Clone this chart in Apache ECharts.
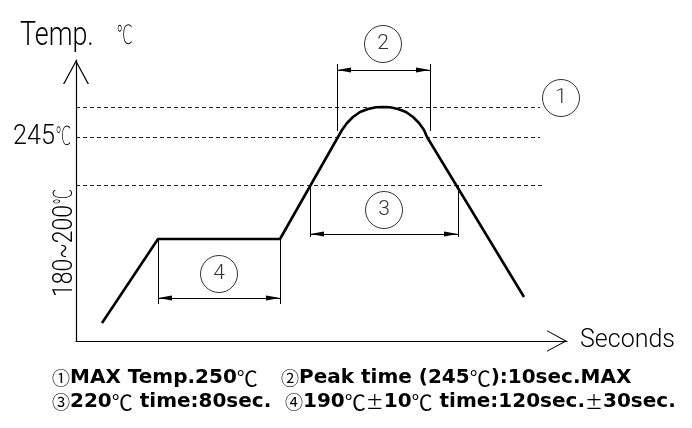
<!DOCTYPE html>
<html>
<head>
<meta charset="utf-8">
<script src="https://cdn.jsdelivr.net/npm/echarts@6/dist/echarts.min.js"></script>
<style>
  html, body { margin: 0; padding: 0; background: #fff; }
  #chart { width: 692px; height: 428px; }
</style>
</head>
<body>
<div id="chart"></div>
<script>
// profile curve (schematic units)
const profileTime = [26, 82, 204, 262, 266, 271, 277, 284, 292, 300, 307, 314, 322, 330, 337, 343, 348, 351, 448]
const profileTemp = [18, 102, 102, 204, 211, 218, 224, 229, 232, 233.7, 234, 233.7, 232, 229, 224, 218, 211, 204, 44]

// dashed reference levels: 250, 245, 220
const guideLevels = [234, 204, 156]
const guideEnds = [464, 464, 468]

// dimension spans ② ③ ④
const spanFrom = [261, 234, 82]
const spanTo = [354, 382, 204]
const spanLevel = [271, 107, 43]
const extTop = [277, 156, 102]
const extBottom = [210, 104, 37]

// circled callouts
const calloutText = ['1', '2', '3', '4']
const calloutTime = [485, 307, 308, 143]
const calloutTemp = [243, 297, 131, 67]

const CAD = 'Roboto'
const ARROW = 'path://M0,24 L13,0 L26,24 L24.6,24 L13,2.6 L1.4,24 Z'
const HEAD = 'path://M5,0 L10,28 L0,28 Z'

let guideLines = guideLevels.map((lv, i) => [
    {coord: [0, lv]},
    {coord: [guideEnds[i], lv]}
])

let extLines = []
spanFrom.forEach((x, i) => {
    extLines.push([{coord: [x, extTop[i]]}, {coord: [x, extBottom[i]]}])
    extLines.push([{coord: [spanTo[i], extTop[i]]}, {coord: [spanTo[i], extBottom[i]]}])
})

let head = {symbol: HEAD, symbolSize: [5, 14], symbolOffset: [0, 7]}
let dimLines = spanFrom.map((x, i) => [
    Object.assign({coord: [x, spanLevel[i]]}, head),
    Object.assign({coord: [spanTo[i], spanLevel[i]]}, head)
])

// thin CAD-like lettering
function cadText(text, x, y, size, opts) {
    let o = opts || {}
    return {
        type: 'text', x: x, y: y, rotation: o.rotation || 0, scaleX: o.scaleX || 1,
        style: {
            text: text, fontFamily: o.family || CAD, fontWeight: o.weight || 300, fontSize: size,
            fill: '#000', align: o.align || 'left', verticalAlign: 'middle'
        }
    }
}

let noteStyle = {
    fontFamily: 'DejaVu Sans', fontWeight: 'bold', fontSize: 20, color: '#000', lineHeight: 24,
    rich: {
        c: {fontFamily: 'Noto Sans CJK JP', fontWeight: 'normal', fontSize: 18, color: '#000', lineHeight: 24},
        d: {fontFamily: 'Noto Sans CJK JP', fontWeight: 'normal', fontSize: 21, color: '#000', lineHeight: 24}
    }
}

let chart = echarts.init(document.getElementById('chart'))
chart.setOption({
    backgroundColor: '#fff',
    animation: false,
    grid: {left: 76, top: 60, width: 491, height: 281},
    xAxis: {
        type: 'value', min: 0, max: 491,
        axisLine: {show: true, symbol: ['none', ARROW], symbolSize: [23, 20], symbolOffset: [0, -10],
            lineStyle: {color: '#000', width: 1.2}},
        axisTick: {show: false}, axisLabel: {show: false}, splitLine: {show: false}
    },
    yAxis: {
        type: 'value', min: 0, max: 281,
        axisLine: {show: true, symbol: ['none', ARROW], symbolSize: [26, 24], symbolOffset: [0, -12],
            lineStyle: {color: '#000', width: 1.2}},
        axisTick: {show: false}, axisLabel: {show: false}, splitLine: {show: false}
    },
    title: [
        {left: 52, top: 366, padding: 0, textStyle: noteStyle,
            text: '{c|①}MAX Temp.250{d|℃}\n{c|③}220{d|℃} time:80sec.'},
        {left: 281, top: 366, padding: 0, textStyle: noteStyle,
            text: '{c|②}Peak time (245{d|℃}):10sec.MAX'},
        {left: 285, top: 390, padding: 0, textStyle: noteStyle,
            text: '{c|④}190{d|℃}{c|±}10{d|℃} time:120sec.{c|±}30sec.'}
    ],
    graphic: [
        cadText('Temp.', 20, 36, 34, {scaleX: 0.79}),
        cadText('℃', 116, 37, 27, {family: 'DejaVu Sans', weight: 200, scaleX: 0.55}),
        cadText('245', 55, 137, 28, {align: 'right', scaleX: 0.9}),
        cadText('℃', 55, 138, 26, {family: 'DejaVu Sans', weight: 200, scaleX: 0.55}),
        cadText('180~200', 65, 251, 27, {align: 'center', rotation: Math.PI / 2, scaleX: 0.85}),
        cadText('℃', 65, 197, 26, {family: 'DejaVu Sans', weight: 200, align: 'center', rotation: Math.PI / 2, scaleX: 0.55}),
        cadText('Seconds', 580, 341, 25)
    ],
    series: [
        {
            name: 'guides',
            type: 'line',
            data: [],
            markLine: {
                silent: true, animation: false, symbol: ['none', 'none'],
                label: {show: false},
                lineStyle: {color: '#222', width: 1, type: [4, 3]},
                data: guideLines
            }
        },
        {
            name: 'dims',
            type: 'line',
            data: [],
            markLine: {
                silent: true, animation: false, symbol: ['none', 'none'],
                label: {show: false},
                lineStyle: {color: '#000', width: 1, type: 'solid'},
                data: extLines.concat(dimLines)
            }
        },
        {
            name: 'profile',
            type: 'line',
            data: profileTime.map((t, i) => [t, profileTemp[i]]),
            symbol: 'none',
            lineStyle: {color: '#000', width: 2.6, join: 'round'},
            z: 5
        },
        {
            name: 'callouts',
            type: 'scatter',
            clip: false,
            data: calloutTime.map((t, i) => [t, calloutTemp[i], calloutText[i]]),
            symbol: 'circle',
            symbolSize: 37,
            itemStyle: {color: '#fff', borderColor: '#000', borderWidth: 1},
            label: {
                show: true, position: 'inside', formatter: p => p.value[2],
                fontFamily: CAD, fontWeight: 300, fontSize: 21, color: '#000'
            },
            z: 6
        }
    ]
})
</script>
</body>
</html>
